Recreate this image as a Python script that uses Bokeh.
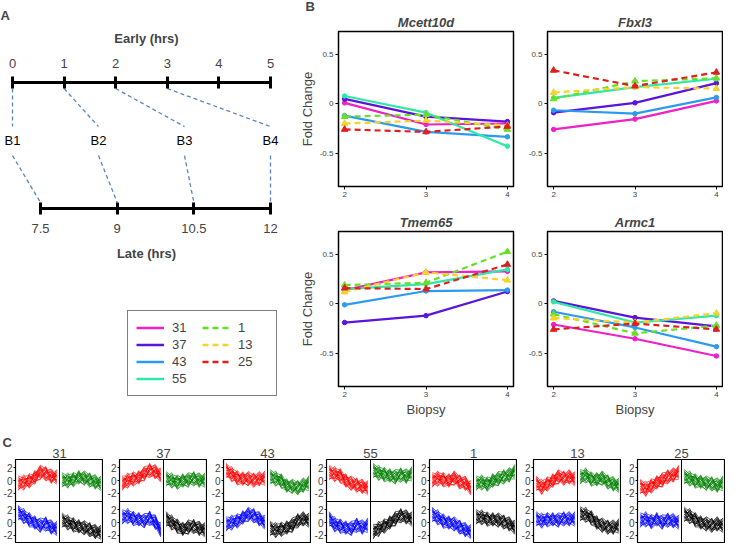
from bokeh.plotting import figure
from bokeh.layouts import row, column
from bokeh.models import Range1d, LinearAxis, FixedTicker, Legend, LegendItem, Span, Title
from bokeh.core.properties import value
from bokeh.embed import file_html
from bokeh.resources import INLINE

FONT = "Liberation Sans"

# ---------------- Panel A data ----------------
early_ticks = [0, 1, 2, 3, 4, 5]
late_ticks = [7.5, 9, 10.5, 12]
late_tick_labels = ["7.5", "9", "10.5", "12"]
biopsy_names = ["B1", "B2", "B3", "B4"]
biopsy_early_hr = [0, 1, 2, 3]
biopsy_late_hr = [7.5, 9, 10.5, 12]
biopsy_label_hr = [0, 5 / 3, 10 / 3, 5]

# ---------------- Panel B data ----------------
series = ["31", "37", "43", "55", "1", "13", "25"]
series_colors = ["#F01FC8", "#5A14DC", "#2B9BF0", "#2EE8A8", "#66E026", "#F8D22A", "#E01E1E"]
series_dashed = [False, False, False, False, True, True, True]
biopsies = [2, 3, 4]
genes = ["Mcett10d", "Fbxl3", "Tmem65", "Armc1"]
mcett10d = {"31": [0.01, -0.21, -0.20], "37": [0.05, -0.13, -0.18], "43": [-0.12, -0.285, -0.335],
            "55": [0.08, -0.09, -0.43], "1": [-0.13, -0.11, -0.26], "13": [-0.20, -0.17, -0.22],
            "25": [-0.26, -0.285, -0.23]}
fbxl3 = {"31": [-0.26, -0.155, 0.03], "37": [-0.09, 0.01, 0.21], "43": [-0.065, -0.10, 0.065],
         "55": [0.06, 0.17, 0.255], "1": [0.05, 0.23, 0.26], "13": [0.115, 0.17, 0.155],
         "25": [0.34, 0.18, 0.32]}
tmem65 = {"31": [0.14, 0.32, 0.33], "37": [-0.19, -0.12, 0.125], "43": [-0.01, 0.13, 0.14],
          "55": [0.15, 0.20, 0.35], "1": [0.19, 0.215, 0.53], "13": [0.12, 0.32, 0.24],
          "25": [0.16, 0.15, 0.40]}
armc1 = {"31": [-0.21, -0.355, -0.53], "37": [0.03, -0.14, -0.23], "43": [-0.08, -0.24, -0.435],
         "55": [0.02, -0.19, -0.12], "1": [-0.105, -0.30, -0.22], "13": [-0.145, -0.19, -0.095],
         "25": [-0.26, -0.20, -0.26]}
gene_values = [mcett10d, fbxl3, tmem65, armc1]
fold_ticks = [-0.5, 0, 0.5]
fold_tick_labels = ["-0.5", "0", "0.5"]

# ---------------- Panel C data ----------------
clusters = ["31", "37", "43", "55", "1", "13", "25"]
cell_colors = ["red", "green", "blue", "black"]  # top-left, top-right, bottom-left, bottom-right
timepoints = [1, 2, 3, 4, 5, 6, 7, 8]
c_ticks = [-2, 0, 2]
c_tick_labels = ["-2", "0", "2"]
profiles_31 = [[-0.5, -0.3, 0.0, 0.5, 1.2, 1.0, 0.6, 0.5], [0.0, 0.0, 0.2, 0.5, 0.3, 0.0, -0.3, -0.5],
               [1.5, 1.0, 0.5, 0.0, -0.5, -0.3, -0.8, -1.0], [0.3, 0.0, -0.3, -0.6, -0.9, -1.2, -1.5, -1.6]]
profiles_37 = [[-0.5, 0.0, 0.3, 0.5, 1.0, 1.5, 1.3, 0.8], [0.2, 0.0, -0.2, 0.0, 0.0, 0.2, 0.0, 0.0],
               [0.8, 1.0, 0.7, 0.5, 0.2, 0.6, 0.0, -1.2], [0.5, 0.0, -0.5, -1.0, -0.8, -0.7, -1.0, -1.2]]
profiles_43 = [[1.5, 1.0, 0.5, 0.3, 0.2, 0.0, 0.2, 0.3], [0.5, 0.3, 0.0, -0.8, -1.0, -1.2, -0.8, -0.5],
               [-0.3, 0.0, 0.3, 0.8, 1.2, 1.0, 0.5, 0.0], [-1.0, -1.2, -1.0, -0.8, -0.5, 0.2, 0.5, 0.3]]
profiles_55 = [[1.2, 1.0, 0.8, 0.0, -0.5, -0.8, -1.0, -1.2], [1.5, 1.2, 1.0, 0.8, 0.5, 0.8, 0.6, 1.0],
               [0.5, -0.3, -0.5, -0.8, -1.0, -0.5, -0.8, -0.5], [-1.5, -1.0, -0.5, 0.0, 0.5, 1.0, 0.8, 0.5]]
profiles_1 = [[0.0, 0.3, 0.2, 0.0, 0.3, -0.3, -0.5, -1.2], [-0.5, -0.3, -0.5, 0.0, 0.2, 0.5, 0.8, 1.3],
              [1.2, 0.8, 0.3, 0.0, -0.3, -0.8, -1.2, -1.5], [0.8, 0.8, 0.6, 0.5, 0.3, 0.0, -0.3, -0.8]]
profiles_13 = [[-0.5, -1.0, -0.5, 0.0, 0.5, 0.3, 0.5, 0.2], [0.5, 0.8, 0.3, 0.2, 0.3, -0.3, -0.6, -0.8],
               [0.5, 0.3, 0.5, 0.5, 0.3, 0.5, 0.5, 0.5], [1.3, 1.2, 0.8, 0.0, -0.5, -0.8, -0.8, -0.6]]
profiles_25 = [[-1.0, -1.3, -0.8, -0.3, 0.0, 0.5, 0.8, 1.2], [0.5, 0.3, 0.0, -0.2, -0.5, -0.6, -0.8, -0.5],
               [0.3, 0.5, 0.2, 0.5, 0.0, 0.3, 0.2, 0.0], [1.2, 1.0, 0.5, 0.0, -0.3, -0.5, -0.3, -0.5]]
cluster_profiles = [profiles_31, profiles_37, profiles_43, profiles_55, profiles_1, profiles_13, profiles_25]
member_offsets = [
    [0.6, -0.2, 0.4, -0.5, 0.3, 0.8, -0.1, 0.2],
    [-0.7, -0.3, 0.1, 0.6, -0.4, 0.2, 0.5, -0.3],
    [0.2, 0.9, -0.5, 0.1, 0.7, -0.6, 0.3, 0.8],
    [-0.4, 0.1, -0.8, -0.2, 0.5, -0.3, -0.7, 0.4],
    [0.9, 0.5, 0.2, 0.4, -0.6, 0.1, 0.6, -0.5],
    [-0.1, -0.6, 0.7, -0.7, 0.2, 0.5, -0.4, -0.8],
    [0.3, 0.4, -0.2, 0.8, -0.2, -0.8, 0.1, 0.5],
    [-0.8, 0.2, 0.5, -0.3, -0.8, 0.4, 0.9, 0.1],
    [0.5, -0.8, -0.3, 0.3, 0.8, -0.1, -0.5, -0.2],
    [-0.3, 0.7, 0.6, -0.6, 0.0, 0.7, -0.2, 0.7],
    [0.1, -0.4, -0.6, 0.5, 0.4, -0.5, 0.4, -0.6],
    [-0.5, 0.3, 0.3, -0.1, -0.3, 0.9, -0.8, 0.3],
    [0.7, 0.0, -0.4, -0.4, 0.6, 0.3, -0.6, 0.6],
    [-0.6, -0.5, 0.8, 0.2, -0.1, -0.4, 0.2, -0.7],
    [0.0, 0.6, -0.7, 0.7, -0.5, 0.0, 0.7, -0.1],
    [0.8, -0.1, 0.0, -0.8, 0.1, -0.7, -0.3, 0.9],
    [-0.2, -0.9, 0.4, 0.0, 0.9, 0.6, 0.0, -0.4],
    [0.4, 0.3, -0.9, -0.5, -0.7, 0.3, 0.8, 0.0],
]
member_spread = 1.35


def base_fig(**kw):
    p = figure(toolbar_location=None, output_backend="svg", x_axis_location=None, y_axis_location=None,
               background_fill_color="white", border_fill_color="white", **kw)
    p.xgrid.visible = False
    p.ygrid.visible = False
    return p


def style_title(t, size, style, align, standoff, offset=0):
    t.text_font = FONT
    t.text_font_size = size
    t.text_font_style = style
    t.align = align
    t.standoff = standoff
    t.offset = offset


# ---------------- Panel A ----------------
XA = (-0.2326, 5.4264)
XL = (6.717, 12.430)


def early_to_late(h):
    return XL[0] + (h - XA[0]) * (XL[1] - XL[0]) / (XA[1] - XA[0])


pA = base_fig(frame_width=292, frame_height=126, x_range=Range1d(*XA), y_range=Range1d(0, 1),
              min_border_left=0, min_border_right=0, min_border_top=72, min_border_bottom=64,
              outline_line_color=None, title="A")
style_title(pA.title, "13px", "bold", "left", 10)
pA.extra_x_ranges = {"late": Range1d(*XL)}


def timeline_axis(ax, label):
    ax.axis_label = label
    ax.axis_label_text_font = FONT
    ax.axis_label_text_font_size = "13px"
    ax.axis_label_text_font_style = "bold"
    ax.axis_label_standoff = 10
    ax.axis_line_width = 3
    ax.major_tick_line_width = 3
    ax.major_tick_in = 6
    ax.major_tick_out = 6
    ax.minor_tick_line_color = None
    ax.major_label_text_font = FONT
    ax.major_label_text_font_size = "13px"
    ax.major_label_standoff = 9


ax_top = LinearAxis(ticker=FixedTicker(ticks=early_ticks), bounds=(early_ticks[0], early_ticks[-1]))
timeline_axis(ax_top, "Early (hrs)")
pA.add_layout(ax_top, "above")
ax_bot = LinearAxis(x_range_name="late", ticker=FixedTicker(ticks=late_ticks),
                    bounds=(late_ticks[0], late_ticks[-1]),
                    major_label_overrides=dict(zip(late_ticks, late_tick_labels)))
timeline_axis(ax_bot, "Late (hrs)")
pA.add_layout(ax_bot, "below")

link_color = "#5B84C4"
pA.segment(x0=biopsy_early_hr, y0=[0.952] * 4, x1=biopsy_label_hr, y1=[0.65] * 4,
           line_color=link_color, line_width=1.3, line_dash="4 3")
pA.segment(x0=[early_to_late(h) for h in biopsy_label_hr], y0=[0.42] * 4, x1=biopsy_late_hr, y1=[0.048] * 4,
           line_color=link_color, line_width=1.3, line_dash="4 3", x_range_name="late")
pA.text(x=biopsy_label_hr, y=[0.54] * 4, text=biopsy_names, text_align="center", text_baseline="middle",
        text_font=value(FONT), text_font_size="13px", text_color="black")

# ---------------- Legend ----------------
pL = base_fig(frame_width=292, frame_height=158, x_range=Range1d(0, 1), y_range=Range1d(0, 1),
              min_border=0, outline_line_color=None)
items = []
for name, col, dashed in zip(series, series_colors, series_dashed):
    r = pL.line(x=[5, 6], y=[5, 6], line_color=col, line_width=2.5, line_dash="6 4" if dashed else "solid")
    items.append(LegendItem(label=name, renderers=[r]))
leg = Legend(items=items, ncols=2, location=(127, 34), border_line_color="black", border_line_width=1.2,
             padding=8, spacing=0, margin=0, label_height=17, glyph_height=17, glyph_width=28,
             label_standoff=8, label_width=30, label_text_font=FONT, label_text_font_size="13px")
pL.add_layout(leg)

# ---------------- Panel B ----------------
B_FRAME_H = 155


def make_b(idx):
    left_col = idx % 2 == 0
    bottom = idx >= 2
    p = base_fig(frame_width=175, frame_height=B_FRAME_H, x_range=Range1d(1.925, 4.075),
                 y_range=Range1d(-0.84, 0.735),
                 min_border_left=46 if left_col else 24, min_border_right=10 if left_col else 1,
                 min_border_top=25 if bottom else 31, min_border_bottom=34 if bottom else 20,
                 outline_line_color="black", outline_line_width=1.5)
    if idx == 0:
        p.title.text = "B"
        style_title(p.title, "13px", "bold", "left", -7, offset=-33)
        gt = Title(text=genes[idx])
        style_title(gt, "13px", "bold italic", "center", 4)
        p.add_layout(gt, "above")
    else:
        p.title.text = genes[idx]
        style_title(p.title, "13px", "bold italic", "center", 4)
    xa = LinearAxis(ticker=FixedTicker(ticks=biopsies))
    ya = LinearAxis(ticker=FixedTicker(ticks=fold_ticks), major_label_overrides=dict(zip(fold_ticks, fold_tick_labels)))
    for ax in (xa, ya):
        ax.axis_line_color = None
        ax.major_tick_in = 0
        ax.major_tick_out = 3
        ax.minor_tick_line_color = None
        ax.major_label_text_font = FONT
        ax.major_label_text_font_size = "8px"
        ax.major_label_standoff = 2
        ax.axis_label_text_font = FONT
        ax.axis_label_text_font_size = "13px"
        ax.axis_label_text_font_style = "normal"
        ax.axis_label_standoff = 2
    if bottom:
        xa.axis_label = "Biopsy"
    if left_col:
        ya.axis_label = "Fold Change"
    p.add_layout(xa, "below")
    p.add_layout(ya, "left")
    vals = gene_values[idx]
    for name, col, dashed in zip(series, series_colors, series_dashed):
        if not dashed:
            p.line(biopsies, vals[name], line_color=col, line_width=2.2)
            p.scatter(biopsies, vals[name], marker="circle", size=4.5, color=col)
    for name, col, dashed in zip(series, series_colors, series_dashed):
        if dashed:
            p.line(biopsies, vals[name], line_color=col, line_width=2.2, line_dash="6 4")
            p.scatter(biopsies, vals[name], marker="triangle", size=6.5, color=col)
    return p


pb = [make_b(i) for i in range(4)]

# ---------------- Panel C ----------------
NT = len(timepoints)
CELL_W = NT
CELL_H = 6.6
c_borders = [13, 16, 16, 15, 15, 16, 16]


def make_c(ci):
    p = base_fig(frame_width=88, frame_height=84, x_range=Range1d(0.5, 0.5 + 2 * CELL_W),
                 y_range=Range1d(-CELL_H / 2, -CELL_H / 2 + 2 * CELL_H),
                 min_border_left=c_borders[ci], min_border_right=0, min_border_top=29, min_border_bottom=0,
                 outline_line_color="black", outline_line_width=1.2)
    if ci == 0:
        p.title.text = "C"
        style_title(p.title, "13px", "bold", "left", -8, offset=-13)
        ct = Title(text=clusters[ci])
        style_title(ct, "13px", "normal", "center", 3)
        p.add_layout(ct, "above")
    else:
        p.title.text = clusters[ci]
        style_title(p.title, "13px", "normal", "center", 3)
    yt = [v for v in c_ticks] + [v + CELL_H for v in c_ticks]
    yl = c_tick_labels + c_tick_labels
    ya = LinearAxis(ticker=FixedTicker(ticks=yt), major_label_overrides=dict(zip(yt, yl)))
    ya.axis_line_color = None
    ya.major_tick_in = 0
    ya.major_tick_out = 2
    ya.minor_tick_line_color = None
    ya.major_label_text_font = FONT
    ya.major_label_text_font_size = "10px"
    ya.major_label_standoff = 1
    p.add_layout(ya, "left")
    profiles = cluster_profiles[ci]
    for k, (prof, col) in enumerate(zip(profiles, cell_colors)):
        cx = (k % 2) * CELL_W
        cy = CELL_H if k < 2 else 0.0
        xs, ys = [], []
        for off in member_offsets:
            xs.append([t + cx for t in timepoints])
            ys.append([m + member_spread * o + cy for m, o in zip(prof, off)])
        p.multi_line(xs, ys, line_color=col, line_width=0.7, line_alpha=0.9)
    p.add_layout(Span(location=0.5 + CELL_W, dimension="height", line_color="black", line_width=1))
    p.add_layout(Span(location=CELL_H / 2, dimension="width", line_color="black", line_width=1))
    return p


pc = [make_c(i) for i in range(len(clusters))]

top = row(column(pA, pL), column(row(pb[0], pb[1]), row(pb[2], pb[3])))
root = column(top, row(*pc))

open("out.html", "w").write(file_html(root, INLINE))
